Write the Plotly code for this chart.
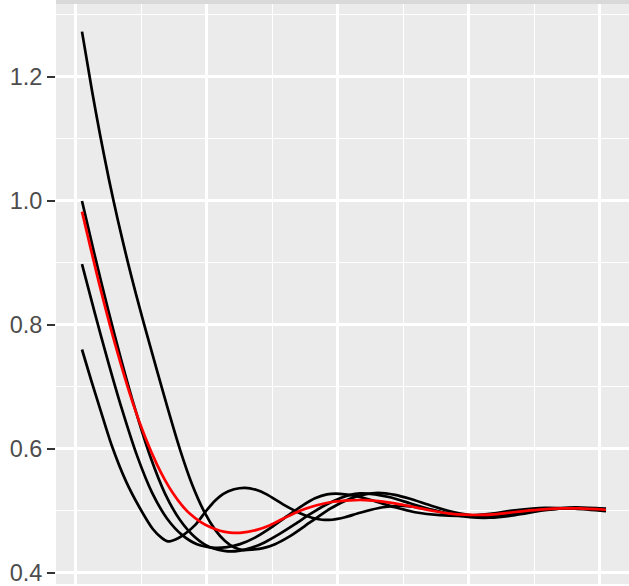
import plotly.graph_objects as go

# ---- data ----
a_x = [0.99, 2.52, 3.74, 5.11, 6.49, 8.01, 9.23, 10.45, 12.29, 14.12, 15.95, 17.78, 19.76, 21.29, 22.82, 24.19,
       25.56, 26.94, 28.62, 30.45, 32.74, 35.94, 38.84, 41.89, 44.18, 46.17, 48.76, 51.05, 54.10, 57.15, 60.21,
       63.26, 67.07, 71.65, 76.23, 80.96]
a_y = [1.2728, 1.1773, 1.1069, 1.0340, 0.9673, 0.8996, 0.8493, 0.8012, 0.7314, 0.6631, 0.5984, 0.5426, 0.4958,
       0.4693, 0.4508, 0.4407, 0.4363, 0.4370, 0.4394, 0.4458, 0.4587, 0.4820, 0.5029, 0.5190, 0.5262, 0.5286,
       0.5254, 0.5190, 0.5085, 0.4989, 0.4925, 0.4900, 0.4949, 0.5013, 0.5037, 0.5029]

b_x = [0.99, 2.98, 4.96, 6.94, 9.08, 11.37, 13.66, 15.95, 18.24, 20.53, 23.27, 25.11, 26.94, 28.92, 31.21, 33.50,
       35.79, 38.08, 40.37, 41.89, 43.42, 45.71, 48.00, 51.05, 54.10, 57.15, 60.21, 63.26, 67.07, 71.65, 76.23, 80.96]
b_y = [0.9995, 0.9097, 0.8248, 0.7446, 0.6644, 0.5884, 0.5274, 0.4847, 0.4569, 0.4407, 0.4342, 0.4354, 0.4402,
       0.4490, 0.4627, 0.4780, 0.4941, 0.5085, 0.5198, 0.5254, 0.5278, 0.5262, 0.5214, 0.5118, 0.5021, 0.4949,
       0.4909, 0.4900, 0.4941, 0.5021, 0.5037, 0.5005]

c_x = [0.99, 2.98, 4.96, 7.05, 9.39, 11.68, 13.96, 16.25, 18.54, 21.29, 23.12, 25.11, 27.39, 29.84, 32.28, 34.57,
       36.55, 38.38, 40.37, 42.66, 45.71, 48.76, 51.81, 55.63, 59.44, 63.26, 67.07, 71.65, 76.23, 80.96]
c_y = [0.8977, 0.8173, 0.7409, 0.6648, 0.5886, 0.5290, 0.4873, 0.4608, 0.4457, 0.4399, 0.4410, 0.4458, 0.4563,
       0.4724, 0.4909, 0.5077, 0.5198, 0.5262, 0.5270, 0.5238, 0.5150, 0.5053, 0.4973, 0.4925, 0.4917, 0.4949,
       0.5005, 0.5045, 0.5029, 0.4989]

d_x = [0.99, 2.37, 3.74, 5.53, 7.71, 9.84, 11.83, 13.20, 14.12, 15.34, 16.45, 18.24, 20.02, 21.29, 22.56, 24.19,
       25.87, 27.55, 29.18, 31.67, 34.26, 36.09, 37.62, 39.15, 41.13, 43.42, 46.93, 49.98, 53.60, 57.15, 60.21,
       63.26, 67.07, 71.65, 76.23, 80.96]
d_y = [0.7599, 0.7111, 0.6645, 0.6050, 0.5471, 0.5037, 0.4699, 0.4555, 0.4502, 0.4539, 0.4603, 0.4764, 0.5005,
       0.5158, 0.5270, 0.5343, 0.5367, 0.5335, 0.5262, 0.5101, 0.4957, 0.4884, 0.4852, 0.4852, 0.4892, 0.4965,
       0.5053, 0.5077, 0.5029, 0.4941, 0.4892, 0.4884, 0.4925, 0.5005, 0.5053, 0.5029]

mean_x = [0.99, 3.74, 6.03, 8.78, 10.61, 12.44, 13.66, 14.88, 16.25, 17.47, 19.00, 20.53, 22.05, 23.58, 25.11,
          27.65, 29.68, 31.67, 34.26, 36.81, 39.30, 41.89, 44.18, 46.93, 49.52, 52.07, 54.87, 57.15, 59.44, 61.73,
          64.33, 66.77, 69.36, 71.91, 74.40, 76.99, 80.96]
mean_y = [0.9824, 0.8607, 0.7690, 0.6726, 0.6190, 0.5741, 0.5491, 0.5278, 0.5082, 0.4947, 0.4822, 0.4734, 0.4675,
          0.4645, 0.4640, 0.4688, 0.4764, 0.4868, 0.4997, 0.5085, 0.5142, 0.5166, 0.5169, 0.5145, 0.5101, 0.5048,
          0.4989, 0.4952, 0.4933, 0.4929, 0.4944, 0.4973, 0.5002, 0.5024, 0.5034, 0.5036, 0.5013]

y_tickvals = [0.4, 0.6, 0.8, 1.0, 1.2]
y_ticktext = ["0.4", "0.6", "0.8", "1.0", "1.2"]

fig = go.Figure()
for xs, ys in [(a_x, a_y), (b_x, b_y), (c_x, c_y), (d_x, d_y)]:
    fig.add_trace(go.Scatter(x=xs, y=ys, mode="lines",
                             line=dict(color="black", width=2.7, shape="spline", smoothing=0.7),
                             showlegend=False, hoverinfo="skip"))
fig.add_trace(go.Scatter(x=mean_x, y=mean_y, mode="lines",
                         line=dict(color="red", width=2.7, shape="spline", smoothing=0.7),
                         showlegend=False, hoverinfo="skip"))

W, H = 629, 586
L, T = 56, 4
plot_h = H - T

fig.update_layout(
    width=W, height=H,
    margin=dict(l=L, r=0, t=T, b=0, pad=0),
    paper_bgcolor="white",
    plot_bgcolor="#EBEBEB",
    showlegend=False,
    font=dict(family="Liberation Sans, Arial, sans-serif"),
    xaxis=dict(
        range=[-2.976, 84.47], showticklabels=False, ticks="",
        tick0=0, dtick=20, showgrid=True, gridcolor="white", gridwidth=2.6,
        minor=dict(tick0=0, dtick=10, showgrid=True, gridcolor="white", gridwidth=1.4),
        zeroline=False, showline=False,
    ),
    yaxis=dict(
        range=[0.3815, 1.3174],
        tickmode="array", tickvals=y_tickvals, ticktext=y_ticktext,
        ticks="outside", ticklen=8, tickwidth=2.3, tickcolor="#333333",
        ticklabeloverflow="allow",
        tickfont=dict(size=23.5, color="#4D4D4D", family="Liberation Sans, Arial, sans-serif"),
        showgrid=True, gridcolor="white", gridwidth=2.6,
        minor=dict(tick0=0.3, dtick=0.2, showgrid=True, gridcolor="white", gridwidth=1.4, ticks=""),
        zeroline=False, showline=False,
    ),
    shapes=[dict(type="rect", xref="paper", yref="paper", x0=0, x1=1,
                 y0=1, y1=1 + T / plot_h, fillcolor="#D9D9D9", line=dict(width=0), layer="above")],
)

fig.write_html("out.html", config=dict(displayModeBar=False),
               post_script="document.body.style.margin='0';document.body.style.overflow='hidden';")
